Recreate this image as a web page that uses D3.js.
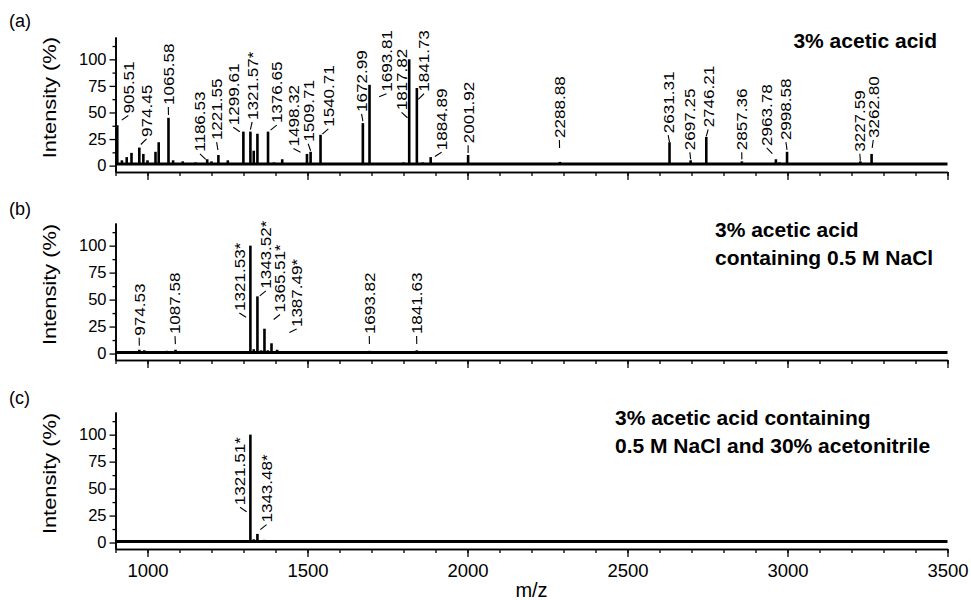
<!DOCTYPE html>
<html>
<head>
<meta charset="utf-8">
<script src="https://cdn.jsdelivr.net/npm/d3@7"></script>
<style>
body { margin: 0; background: #fff; }
text { font-family: Arial, "Liberation Sans", sans-serif; fill: #000; }
</style>
</head>
<body>
<div id="chart"></div>
<script>
// peaks: m/z and relative intensity (%)
var peaksA_mz  = [905.51, 920, 935, 950, 974.45, 987, 1000, 1025, 1035, 1065.58, 1080, 1110, 1150, 1186.53, 1200, 1221.55, 1251,
                  1299.61, 1321.57, 1332, 1343.5, 1376.65, 1395, 1421, 1498.32, 1509.71, 1540.71, 1600, 1672.99, 1693.81, 1800,
                  1817.82, 1841.73, 1860, 1884.89, 2001.92, 2240, 2270, 2288.88, 2631.31, 2697.25, 2746.21, 2857.36, 2963.78,
                  2975, 2998.58, 3227.59, 3262.80]
var peaksA_int = [38, 5, 8, 12, 17, 11, 5, 13, 22, 45, 5, 4, 3, 6, 4, 10, 5,
                  32, 32, 14, 30, 32, 3, 6, 11, 13, 29, 2, 40, 76, 3,
                  100, 73, 3, 8, 10, 2.5, 2, 3.5, 22, 5, 27, 4, 6,
                  3, 13, 4, 11]
var peaksB_mz  = [930, 974.53, 990, 1060, 1087.58, 1321.53, 1332, 1343.52, 1355, 1365.51, 1376, 1387.49, 1405, 1693.82, 1841.63]
var peaksB_int = [2, 3.5, 3, 2.5, 3.5, 100, 4, 53, 3, 23, 3, 9.5, 3.5, 2.5, 3]
var peaksC_mz  = [1080, 1321.51, 1332, 1343.48, 1365]
var peaksC_int = [2, 100, 3, 8, 2.5]

// peak annotations: text, labelled peak, m/z where the text stands, intensity where the text starts
var labelsA_text = ['905.51', '974.45', '1065.58', '1186.53', '1221.55', '1299.61', '1321.57*', '1376.65', '1498.32', '1509.71',
                    '1540.71', '1672.99', '1693.81', '1817.82', '1841.73', '1884.89', '2001.92', '2288.88', '2631.31', '2697.25',
                    '2746.21', '2857.36', '2963.78', '2998.58', '3227.59', '3262.80']
var labelsA_peak = [905.51, 974.45, 1065.58, 1186.53, 1221.55, 1299.61, 1321.57, 1376.65, 1498.32, 1509.71,
                    1540.71, 1672.99, 1693.81, 1817.82, 1841.73, 1884.89, 2001.92, 2288.88, 2631.31, 2697.25,
                    2746.21, 2857.36, 2963.78, 2998.58, 3227.59, 3262.80]
var labelsA_at   = [940, 997, 1065, 1164, 1216, 1268, 1327, 1404, 1456, 1502,
                    1565, 1669, 1747, 1794, 1864, 1919, 2002, 2287, 2627, 2695,
                    2752, 2857, 2935, 2995, 3226, 3268]
var labelsA_base = [49, 27, 57, 13, 24, 38, 43, 40, 18, 22.5,
                    36.5, 50.5, 69.5, 52, 69.5, 14.5, 21, 26, 30.5, 14.5,
                    36, 14.5, 18.5, 24, 13, 26]

var labelsB_text = ['974.53', '1087.58', '1321.53*', '1343.52*', '1365.51*', '1387.49*', '1693.82', '1841.63']
var labelsB_peak = [974.53, 1087.58, 1321.53, 1343.52, 1365.51, 1387.49, 1693.82, 1841.63]
var labelsB_at   = [974, 1086, 1287, 1370, 1414, 1466, 1693, 1841]
var labelsB_base = [16.5, 18, 39.5, 60, 38, 24.5, 18, 18]

var labelsC_text = ['1321.51*', '1343.48*']
var labelsC_peak = [1321.51, 1343.48]
var labelsC_at   = [1289, 1372]
var labelsC_base = [34.5, 18.5]

var xMajor = [1000, 1500, 2000, 2500, 3000, 3500]
var yMajor = [0, 25, 50, 75, 100]

var panels = [
    {tag: '(a)', mz: peaksA_mz, inten: peaksA_int, lt: labelsA_text, lp: labelsA_peak, la: labelsA_at, lb: labelsA_base,
     note: ['3% acetic acid'], top: 37, bottom: 172, noise: 1.5, noteX: 937, noteAnchor: 'end', noteY: 48, tagY: 27},
    {tag: '(b)', mz: peaksB_mz, inten: peaksB_int, lt: labelsB_text, lp: labelsB_peak, la: labelsB_at, lb: labelsB_base,
     note: ['3% acetic acid', 'containing 0.5 M NaCl'], top: 223, bottom: 360, noise: 1, noteX: 715, noteAnchor: 'start', noteY: 237, tagY: 215},
    {tag: '(c)', mz: peaksC_mz, inten: peaksC_int, lt: labelsC_text, lp: labelsC_peak, la: labelsC_at, lb: labelsC_base,
     note: ['3% acetic acid containing', '0.5 M NaCl and 30% acetonitrile'], top: 412, bottom: 549, noise: 1, noteX: 615, noteAnchor: 'start', noteY: 425, tagY: 404}
]

var svg = d3.select('#chart').append('svg')
    .attr('width', 971)
    .attr('height', 600)

var x = d3.scaleLinear().domain([900, 3500]).range([115.5, 947.5])

panels.forEach(function(p, pi){
    var y = d3.scaleLinear().domain([-6, 121]).range([p.bottom, p.top])
    var g = svg.append('g')

    // axes
    var xa = g.append('g').attr('transform', 'translate(0,' + p.bottom + ')')
    xa.call(d3.axisBottom(x).tickValues(d3.range(900, 3501, 100)).tickSizeInner(4).tickSizeOuter(0).tickFormat(''))
    xa.append('g').call(d3.axisBottom(x).tickValues(xMajor).tickSizeInner(8).tickSizeOuter(0)
        .tickFormat(pi == 2 ? d3.format('d') : ''))
    xa.selectAll('path').attr('stroke-width', 1.6)
    xa.selectAll('line').attr('stroke-width', 1.3)
    xa.selectAll('text').style('font-size', '18.5px').attr('dy', '0.9em').attr('fill', '#000')

    var ya = g.append('g').attr('transform', 'translate(' + x(900) + ',0)')
    ya.call(d3.axisLeft(y).tickValues([12.5, 37.5, 62.5, 87.5, 112.5]).tickSizeInner(3).tickSizeOuter(0).tickFormat(''))
    ya.append('g').call(d3.axisLeft(y).tickValues(yMajor).tickSizeInner(6).tickSizeOuter(0))
    ya.selectAll('path').attr('stroke-width', 1.6)
    ya.selectAll('line').attr('stroke-width', 1.3)
    ya.selectAll('text').style('font-size', '16.5px').attr('x', -9).attr('fill', '#000')

    // y title
    g.append('text')
        .attr('transform', 'translate(56,' + y(64) + ') rotate(-90) scale(1.18,1)')
        .attr('text-anchor', 'middle')
        .style('font-size', '18.5px')
        .text('Intensity (%)')

    // panel tag
    g.append('text').attr('x', 9).attr('y', p.tagY).style('font-size', '18px').text(p.tag)

    // condition note
    g.selectAll('text.note')
        .data(p.note)
        .enter()
        .append('text')
        .attr('class', 'note')
        .attr('x', p.noteX)
        .attr('y', function(d, i){ return p.noteY + i * 28 })
        .attr('text-anchor', p.noteAnchor)
        .style('font-size', '21px')
        .style('font-weight', 'bold')
        .text(function(d){ return d })

    // spectrum: thick noisy baseline plus peaks
    g.append('line')
        .attr('x1', x(900)).attr('x2', x(3500))
        .attr('y1', y(p.noise)).attr('y2', y(p.noise))
        .attr('stroke', '#000')
        .attr('stroke-width', 3)

    g.selectAll('line.peak')
        .data(p.mz)
        .enter()
        .append('line')
        .attr('class', 'peak')
        .attr('x1', function(d){ return x(d) })
        .attr('x2', function(d){ return x(d) })
        .attr('y1', y(p.noise))
        .attr('y2', function(d, i){ return y(p.inten[i]) })
        .attr('stroke', '#000')
        .attr('stroke-width', 2.6)

    // peak labels with short leaders pointing down towards their peak
    p.lt.forEach(function(t, i){
        var k = p.mz.indexOf(p.lp[i])
        var lx = x(p.la[i]), ly = y(p.lb[i])
        var sx = lx, sy = ly + 2
        var px = x(p.lp[i]), py = Math.max(y(p.inten[k]) - 2, sy + 7)
        var dx = px - sx, dy = py - sy
        var len = Math.sqrt(dx * dx + dy * dy)
        var L = Math.min(len, 8)
        g.append('line')
            .attr('x1', sx).attr('y1', sy)
            .attr('x2', sx + dx / len * L).attr('y2', sy + dy / len * L)
            .attr('stroke', '#000')
            .attr('stroke-width', 1.1)
        g.append('text')
            .attr('transform', 'translate(' + lx + ',' + ly + ') rotate(-90) scale(1.1,1)')
            .attr('dy', '0.35em')
            .style('font-size', '15.5px')
            .text(t)
    })
})

svg.append('text')
    .attr('x', (x(900) + x(3500)) / 2)
    .attr('y', 597)
    .attr('text-anchor', 'middle')
    .style('font-size', '20px')
    .text('m/z')
</script>
</body>
</html>
